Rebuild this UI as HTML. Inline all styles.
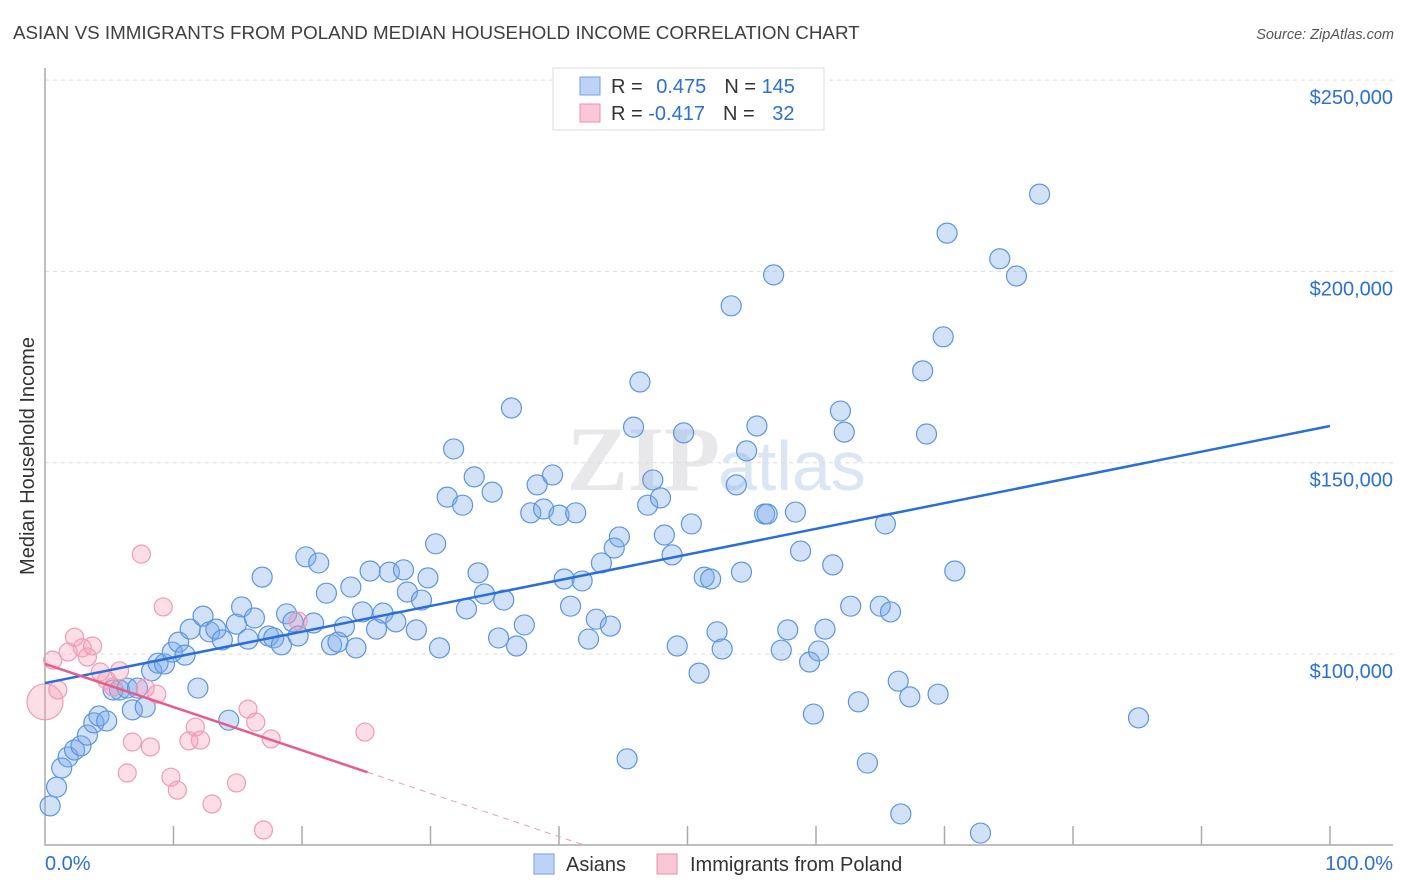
<!DOCTYPE html>
<html><head><meta charset="utf-8"><style>
body{margin:0;background:#fff;font-family:"Liberation Sans",sans-serif}
svg{display:block}
</style></head><body>
<svg id="chart" width="1406" height="892">
<text x="13" y="39" font-size="18.8" fill="#3c4043">ASIAN VS IMMIGRANTS FROM POLAND MEDIAN HOUSEHOLD INCOME CORRELATION CHART</text>
<text x="1394" y="39" font-size="14.5" fill="#555" font-style="italic" text-anchor="end">Source: ZipAtlas.com</text>
<text x="720" y="490" font-size="92" fill="#e8e8ea" text-anchor="end" font-family="Liberation Serif,serif" font-weight="bold">ZIP</text>
<text x="718" y="490" font-size="70" fill="#dbe6f4">atlas</text>
<text transform="translate(34,456) rotate(-90)" font-size="20" fill="#333" text-anchor="middle">Median Household Income</text>
<g id="grid"></g><g id="axes"></g><g id="pts"></g><g id="lines"></g>
<g>
<rect x="553" y="68" width="271" height="62" fill="#fff" stroke="#ddd"/>
<rect x="580" y="77" width="20" height="18" fill="#bcd3f5" stroke="#6fa0e6"/>
<rect x="580" y="104" width="20" height="18" fill="#f9c7d5" stroke="#ee8fab"/>
<text x="611" y="93" font-size="20" fill="#333">R = <tspan fill="#2c6fd6" dx="8">0.475</tspan><tspan dx="18">N = </tspan><tspan fill="#2c6fd6">145</tspan></text>
<text x="611" y="120" font-size="20" fill="#333">R = <tspan fill="#2c6fd6">-0.417</tspan><tspan dx="18">N = </tspan><tspan fill="#2c6fd6" dx="12">32</tspan></text>
</g>
<g>
<rect x="534" y="854" width="20" height="20" fill="#bcd3f5" stroke="#6fa0e6"/>
<text x="566" y="871" font-size="20" fill="#333">Asians</text>
<rect x="657" y="854" width="20" height="20" fill="#f9c7d5" stroke="#ee8fab"/>
<text x="690" y="871" font-size="20" fill="#333">Immigrants from Poland</text>
</g>
</svg>
<script>
const yTicks=[100000,150000,200000,250000];
const yTickLabels=["$100,000","$150,000","$200,000","$250,000"];
const xTickLabels=["0.0%","100.0%"];
const asianX=[0.4,0.9,1.3,1.8,2.3,2.8,3.3,3.8,4.2,4.8,5.3,5.8,6.4,7.2,6.8,7.8,8.3,8.8,9.3,9.9,10.4,10.9,11.3,11.9,12.3,12.8,13.3,13.8,14.3,14.9,15.3,15.8,16.3,16.9,17.4,17.8,18.4,18.8,19.3,19.7,20.3,20.9,21.3,21.9,22.3,22.8,23.3,23.8,24.2,24.7,25.3,25.8,26.3,26.8,27.3,27.9,28.2,28.9,29.3,29.8,30.4,30.7,31.3,31.8,32.5,32.8,33.4,33.7,34.2,34.8,35.3,35.7,36.3,36.7,37.3,37.8,38.3,38.8,39.5,40.0,40.4,40.9,41.3,41.8,42.3,42.9,43.3,44.0,44.3,44.7,45.3,45.8,46.3,46.9,47.3,47.9,48.2,48.8,49.2,49.7,50.3,50.9,51.3,51.8,52.3,52.7,53.4,53.8,54.2,54.6,55.4,56.0,56.2,56.7,57.3,57.8,58.4,58.8,59.5,59.8,60.2,60.7,61.3,61.9,62.2,62.7,63.3,64.0,65.0,65.4,65.8,66.4,66.6,67.3,68.3,68.6,69.5,69.9,70.2,70.8,72.8,74.3,75.6,77.4,85.1];
const asianY=[60.3,65.2,70.2,73.1,74.9,76.0,78.8,82.0,83.8,82.5,90.6,90.6,91.1,91.1,85.4,86.1,95.6,97.6,97.4,100.5,103.1,99.7,106.5,91.1,109.9,105.8,106.5,103.7,82.7,107.8,112.3,103.9,109.4,120.1,104.7,104.2,102.4,110.5,108.4,104.7,125.4,108.1,123.8,115.9,102.4,103.1,107.1,117.5,101.6,111.0,121.7,106.5,110.7,121.4,108.4,122.0,116.2,106.3,114.1,119.9,128.8,101.6,141.0,153.6,138.9,111.8,146.3,121.2,115.7,142.3,104.2,114.1,164.3,102.1,107.6,136.9,144.2,137.9,146.8,136.3,119.6,112.5,136.9,119.1,103.9,109.1,123.8,107.3,127.7,130.6,72.6,159.3,171.1,138.9,145.5,140.8,131.1,125.9,102.1,157.8,134.0,95.0,120.1,119.6,105.8,101.3,191.0,144.2,121.4,153.1,159.6,136.6,136.6,199.1,101.0,106.3,137.1,126.9,97.9,84.3,100.8,106.5,123.3,163.5,158.0,112.5,87.5,71.5,112.5,134.0,111.0,92.9,58.2,88.8,174.0,157.5,89.5,182.9,210.0,121.7,53.2,203.3,198.8,220.2,83.3];
const polandX=[0.0,0.6,1.0,1.8,2.3,2.9,3.3,3.7,4.3,4.8,5.3,5.8,6.4,6.8,7.5,7.8,8.2,8.7,9.2,9.8,10.3,11.2,11.7,12.1,13.0,14.9,15.8,16.4,17.0,17.6,19.7,24.9];
const polandY=[87.5,98.4,90.6,100.5,104.4,101.6,99.2,102.1,95.3,93.2,91.4,95.6,68.9,77.0,126.1,91.1,75.7,89.5,112.3,67.8,64.4,77.3,80.9,77.5,60.8,66.3,85.6,82.2,54.0,77.8,108.6,79.6];
const polandSize=[18,9,9,9,9,9,9,9,9,9,9,9,9,9,9,9,9,9,9,9,9,9,9,9,9,9,9,9,9,9,9,9];
const asianTrend=[92.4,159.6];
const polandTrend=[97.4,-1.128];
const polandSolidEnd=25.1;

const NS="http://www.w3.org/2000/svg";
const X0=45,X1=1330;
function xs(p){return X0+(X1-X0)*p/100;}
function ys(k){return 654-(k-100)*191.3/50;}
function mk(tag,attrs,parent){const e=document.createElementNS(NS,tag);for(const k in attrs)e.setAttribute(k,attrs[k]);parent.appendChild(e);return e;}
const grid=document.getElementById('grid'),axes=document.getElementById('axes'),pts=document.getElementById('pts'),lines=document.getElementById('lines');
yTicks.forEach((t,i)=>{
  const y=ys(t/1000);
  const g=mk('line',{x1:X0,x2:1393,y1:y,y2:y,stroke:'#ddd','stroke-dasharray':'4,4'},grid);
  
  
  const l=mk('text',{x:1393,y:y+24,'font-size':20,fill:'#2c6fd6','text-anchor':'end'},axes);
  l.textContent=yTickLabels[i];
  
  
});
const ax=mk('path',{d:`M${X0} 68 V845 H1393`,fill:'none',stroke:'#aaa','stroke-width':1.5},axes);


for(let i=1;i<=10;i++){
  const x=xs(i*10);
  const t=mk('line',{x1:x,x2:x,y1:826,y2:845,stroke:'#aaa','stroke-width':1.5},axes);
  
  
}
[[xs(0),'start'],[1393,'end']].forEach((a,i)=>{
  const l=mk('text',{x:a[0],y:870,'font-size':20,fill:'#2c6fd6','text-anchor':a[1]},axes);
  l.textContent=xTickLabels[i];
  
  
});
asianX.forEach((v,i)=>{
  const c=mk('circle',{cx:xs(v),cy:ys(asianY[i]),r:10,fill:'rgba(120,170,235,0.35)',stroke:'#5d95e0','stroke-width':1.2},pts);
  
  
});
polandX.forEach((v,i)=>{
  const c=mk('circle',{cx:xs(v),cy:ys(polandY[i]),r:polandSize[i],fill:'rgba(245,160,185,0.35)',stroke:'#ef9ab3','stroke-width':1.2},pts);
  
  
});
const bl=mk('line',{x1:xs(0),y1:ys(asianTrend[0]),x2:xs(100),y2:ys(asianTrend[1]),stroke:'#2a6fd9','stroke-width':2.5},lines);


const pf=p=>polandTrend[0]+polandTrend[1]*p;
const pl=mk('line',{x1:xs(0),y1:ys(pf(0)),x2:xs(polandSolidEnd),y2:ys(pf(polandSolidEnd)),stroke:'#e85c89','stroke-width':2.5},lines);


const pEnd=(50.1-polandTrend[0])/polandTrend[1];
const pd=mk('line',{x1:xs(polandSolidEnd),y1:ys(pf(polandSolidEnd)),x2:xs(pEnd),y2:ys(pf(pEnd)),stroke:'#ef9ab3','stroke-width':1,'stroke-dasharray':'6,5'},lines);


</script>
</body></html>
